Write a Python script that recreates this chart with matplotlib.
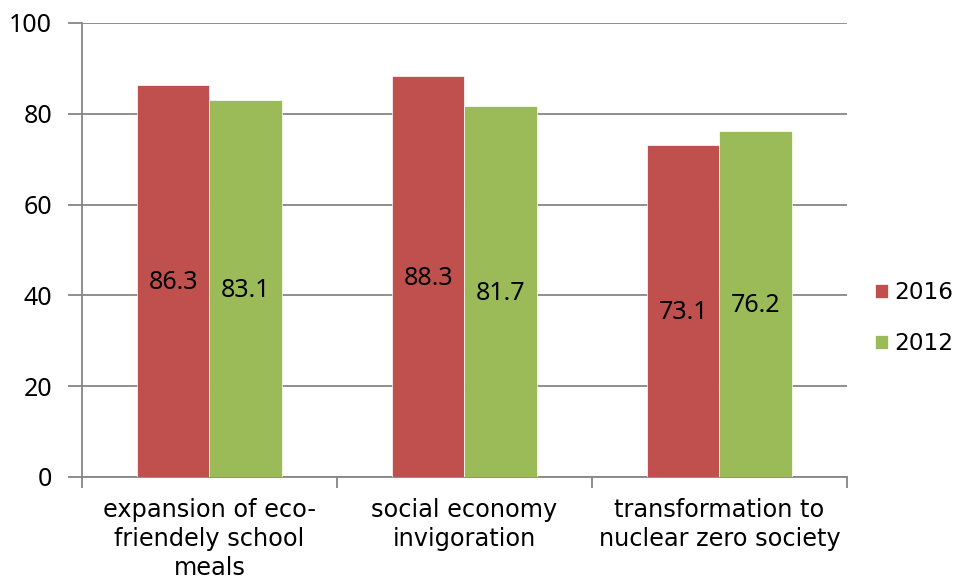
import numpy as np
import matplotlib.pyplot as plt

categories = ['expansion of eco-\nfriendely school\nmeals', 'social economy\ninvigoration',
              'transformation to\nnuclear zero society']
values_2016 = [86.3, 88.3, 73.1]
values_2012 = [83.1, 81.7, 76.2]
series_names = ['2016', '2012']
colors = ['#C0504D', '#9BBB59']

plt.rcParams['font.family'] = ['DejaVu Sans']
num_font = ['Noto Sans', 'DejaVu Sans']

fig = plt.figure(figsize=(9.57, 5.8), dpi=100)
ax = fig.add_axes([82 / 957, 1 - 477 / 580, 765 / 957, 454 / 580])

x = np.arange(len(categories))
w = 0.285
bars1 = ax.bar(x - w / 2, values_2016, w, color=colors[0], edgecolor='white', linewidth=0.5,
               label=series_names[0], zorder=3)
bars2 = ax.bar(x + w / 2, values_2012, w, color=colors[1], edgecolor='white', linewidth=0.5,
               label=series_names[1], zorder=3)

# Wertebeschriftungen mittig im Balken
for bars in (bars1, bars2):
    for b in bars:
        h = b.get_height()
        ax.text(b.get_x() + b.get_width() / 2, h / 2 - 0.4, f'{h:.1f}', ha='center', va='center',
                fontsize=18, family=num_font, color='black', zorder=4)

ax.set_xlim(-0.5, 2.5)
ax.set_ylim(0, 100)
ax.set_yticks(range(0, 101, 20))
ax.tick_params(axis='y', labelsize=18, length=10, color='#868686', width=1.3, pad=11.5)
for t in ax.get_yticklabels():
    t.set_family(num_font)
ax.set_xticks([-0.5, 0.5, 1.5, 2.5])
ax.set_xticklabels([])
ax.set_xticks(x, minor=True)
ax.set_xticklabels(categories, minor=True, fontsize=17.3, linespacing=1.27)
ax.tick_params(axis='x', which='major', length=8, color='#868686', width=1.3)
ax.tick_params(axis='x', which='minor', length=0, pad=15)

ax.grid(axis='y', color='#868686', linewidth=1.3, zorder=0)
for s in ['top', 'right']:
    ax.spines[s].set_visible(False)
for s in ['left', 'bottom']:
    ax.spines[s].set_color('#868686')
    ax.spines[s].set_linewidth(1.3)

ax.legend(loc='center left', bbox_to_anchor=(875 / 957, 1 - 318 / 580),
          bbox_transform=fig.transFigure, frameon=False, fontsize=16.7,
          borderpad=0, borderaxespad=0,
          handlelength=0.57, handleheight=0.57, handletextpad=0.25, labelspacing=1.2)

plt.savefig('out.png', dpi=100)
